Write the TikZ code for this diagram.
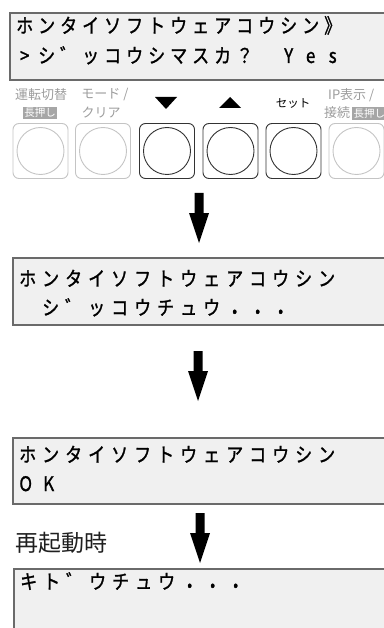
\documentclass[tikz,border=0pt]{standalone}
\usepackage{fontspec}
\setmainfont{Noto Sans CJK JP}
\newfontfamily\jpfont{Noto Sans CJK JP}
\newfontfamily\lcdfont[FakeStretch=0.85,FakeBold=1.2]{Noto Sans CJK JP}
\definecolor{lcdfill}{HTML}{F0F0F0}
\definecolor{lcdedge}{HTML}{6A6A6A}
\definecolor{keylight}{HTML}{C4C4C4}
\definecolor{labgray}{HTML}{9C9C9C}
\definecolor{badgegray}{HTML}{A6A6A6}
\newlength\lcdpitch
\makeatletter
\def\lcd@end{}
\def\lcd@stop{\lcd@end}
\def\lcdtext#1{\lcd@loop#1\lcd@end}
\def\lcd@loop#1{\def\lcd@tmp{#1}\ifx\lcd@tmp\lcd@stop\else\makebox[\lcdpitch][c]{#1}\expandafter\lcd@loop\fi}
\makeatother
\newcommand\lcdpt{\raisebox{1.5pt}{\scalebox{1.5}{.}}}
\tikzset{
  lcdbox/.style={draw=lcdedge, line width=1.6pt, fill=lcdfill, rectangle, inner sep=0pt, anchor=north west},
  lcdline/.style={anchor=base west, inner sep=0pt, font=\lcdfont\fontsize{20}{20}\selectfont},
  keyframe/.style={draw=#1, line width=0.9pt, rounded corners=6pt, minimum size=55pt, inner sep=0pt},
  keyring/.style={draw=#1, line width=0.9pt, circle, minimum size=47pt, inner sep=0pt},
  keylabel/.style={inner sep=0pt, text=labgray, font=\jpfont\fontsize{13}{13}\selectfont},
  badge/.style={inner sep=1.3pt, fill=badgegray, text=white, font=\jpfont\fontsize{10.5}{11}\selectfont},
  downarrow/.pic={\fill[black] (-4.5,0) -- (4.5,0) -- (4.5,20) -- (10,20) -- (0,50) -- (-10,20) -- (-4.5,20) -- cycle;}
}
\begin{document}
\begin{tikzpicture}[x=1pt,y=-1pt]
\useasboundingbox (0,0) rectangle (383,628);
% LCD 1
\node[lcdbox, minimum width=390pt, minimum height=67pt] (lcd1) at (9,12) {};
\setlength\lcdpitch{22pt}
\node[lcdline] (l1a) at (13.5,33) {\lcdtext{ホンタイソフトウェアコウシン》}};
\node[lcdline] (l1b) at (13.5,63) {\lcdtext{>シ゛ッコウシマスカ？~Yes}};
% keys labels
\node[keylabel] (t1) at (41,95) {運転切替};
\node[badge] (b1) at (40,113) {長押し};
\node[keylabel] (t2) at (105,95) {モード /};
\node[keylabel] (t3) at (101,113) {クリア};
\fill (155,97) -- (177,97) -- (166,109) -- cycle;
\fill (219,108) -- (241,108) -- (230,97) -- cycle;
\node[inner sep=0pt, font=\jpfont\fontsize{11.5}{12}\selectfont] (t5) at (293,103) {セット};
\node[keylabel, anchor=west] (t6) at (328,95) {IP表示 /};
\node[keylabel, anchor=west] (t7) at (324,113) {接続};
\node[badge, anchor=west] (b2) at (352,113.5) {長押し};
% keys
\foreach \n/\x/\c in {1/40.5/keylight, 2/103/keylight, 3/167/black!80, 4/230.5/black!80, 5/293.5/black!80, 6/356.5/keylight}{
  \node[keyframe=\c] (k\n) at (\x,151) {};
  \node[keyring=\c] (r\n) at (k\n) {};
}
% arrow 1
\coordinate (a1) at (199,193);
\pic at (a1) {downarrow};
% LCD 2
\node[lcdbox, minimum width=390pt, minimum height=67pt] (lcd2) at (12,257) {};
\setlength\lcdpitch{23pt}
\node[lcdline] (l2a) at (16,286) {\lcdtext{ホンタイソフトウェアコウシン}};
\node[lcdline] (l2b) at (16,315) {\lcdtext{~シ゛ッコウチュウ\lcdpt\lcdpt\lcdpt}};
% arrow 2
\coordinate (a2) at (198,351);
\pic at (a2) {downarrow};
% LCD 3
\node[lcdbox, minimum width=390pt, minimum height=66pt] (lcd3) at (12,437) {};
\node[lcdline] (l3a) at (16,462) {\lcdtext{ホンタイソフトウェアコウシン}};
\node[lcdline] (l3b) at (14,491) {\lcdtext{OK}};
% arrow 3
\coordinate (a3) at (200,513);
\pic at (a3) {downarrow};
\node[anchor=west, inner sep=0pt, text=black!88, font=\jpfont\fontsize{23}{24}\selectfont] (restart) at (15,543) {再起動時};
% LCD 4
\node[lcdbox, minimum width=390pt, minimum height=80pt] (lcd4) at (13,568) {};
\node[lcdline] (l4a) at (17,589) {\lcdtext{キト゛ウチュウ\lcdpt\lcdpt\lcdpt}};
\end{tikzpicture}
\end{document}
